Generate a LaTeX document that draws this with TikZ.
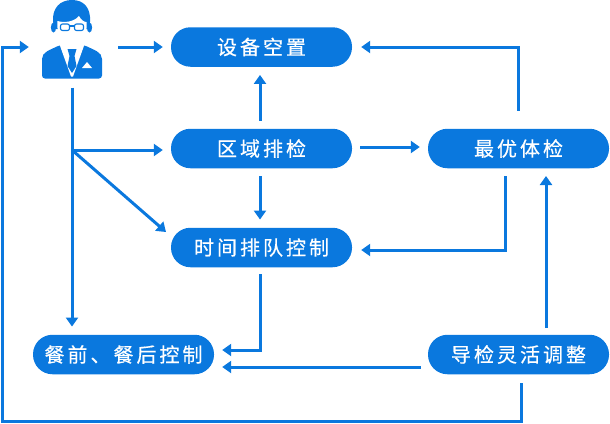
\documentclass[tikz,border=0pt]{standalone}
\usepackage{fontspec}
\newfontfamily\cjk[LetterSpace=15,FakeBold=0.5]{Noto Sans CJK SC}
\usetikzlibrary{arrows.meta,calc}
\definecolor{flow}{RGB}{10,120,222}
\tikzset{
  pill/.style={rounded corners=19.5pt,fill=flow,text=white,minimum width=181pt,minimum height=39.5pt,inner sep=0pt,font=\cjk\fontsize{20pt}{23pt}\selectfont,anchor=center},
  arr/.style={draw=flow,line width=3pt,-{Triangle[length=9pt,width=12pt]}}
}
\begin{document}
\begin{tikzpicture}[x=1pt,y=-1pt]
\useasboundingbox (0,0) rectangle (610,423);
\node[pill] (shebei) at (261.5,47) {设备空置};
\node[pill] (quyu) at (261.5,148.5) {区域排检};
\node[pill] (zuiyou) at (518.5,148.5) {最优体检};
\node[pill] (shijian) at (261.5,247.5) {时间排队控制};
\node[pill] (canqian) at (123.5,354.5) {餐前、餐后控制};
\node[pill] (daojian) at (518.5,354.5) {导检灵活调整};
\node[minimum width=60pt,minimum height=80pt,inner sep=0pt] (person) at (72,39.5) {};
% person figure
\fill[flow,rounded corners=3pt] (42,78.5) -- (42,62) .. controls (42,52) and (50,50) .. (60,45) -- (84,45) .. controls (94,50) and (102,52) .. (102,62) -- (102,78.5) -- cycle;
\fill[white] (59,43) -- (85,43) -- (73,76.5) -- (71,76.5) -- cycle;
\fill[flow] (67.5,49) -- (76.5,49) -- (74.5,56) -- (76.5,66) -- (72,73) -- (67.5,66) -- (69.5,56) -- cycle;
\fill[white] (82,68) -- (87,62) -- (92,68) -- cycle;
\fill[flow] (53,22) .. controls (52,8) and (60,0) .. (72,0) .. controls (84,0) and (91,8) .. (90,22) -- (88,29) -- (56,29) -- cycle;
\fill[flow] (53.5,27.5) ellipse (2.6pt and 5pt);
\fill[flow] (89.5,27.5) ellipse (2.6pt and 5pt);
\fill[white] (57.5,21) .. controls (64,23) and (74,22) .. (79,16) .. controls (81,20) and (84,22) .. (86.5,22) .. controls (88,36) and (81,45) .. (72,45) .. controls (63,45) and (56,36) .. (57.5,21) -- cycle;
\draw[flow,line width=1.1pt,rounded corners=2pt] (60.5,24) rectangle (69.5,30.5) (74.5,24) rectangle (83.5,30.5);
\draw[flow,line width=1.1pt] (69.5,26) -- (74.5,26);
% named junctions
\coordinate (pdown) at (72,150);
\coordinate (pdiag) at (166,232);
\coordinate (corner1) at (505,250);
\coordinate (corner2) at (260,350);
\coordinate (corner3) at (zuiyou.north |- shebei.east);
\coordinate (loopa) at (521,421);
\coordinate (loopb) at (2,421);
\coordinate (loopc) at (2,47);
% connectors
\draw[arr,shorten <=8pt,shorten >=8pt] (person.south) -- (person.south |- canqian.north);
\draw[arr,shorten >=8pt] (pdown) -- (pdown -| quyu.west);
\draw[arr] (pdown) -- (pdiag);
\draw[arr,shorten <=16pt,shorten >=8pt] (person.east) ++(0,7.5) -- (shebei.west);
\draw[arr,shorten <=8pt,shorten >=8pt] ([xshift=-1.5pt]quyu.north) -- ([xshift=-1.5pt]shebei.south);
\draw[arr,shorten <=8pt,shorten >=8pt] ([xshift=-1.5pt]quyu.south) -- ([xshift=-1.5pt]shijian.north);
\draw[arr,shorten <=8pt,shorten >=8pt] ([yshift=1.5pt]quyu.east) -- ([yshift=1.5pt]zuiyou.west);
\draw[arr,shorten >=9pt] (zuiyou.north) ++(0,-18) -- (corner3) -- (shebei.east);
\draw[arr,shorten <=8pt,shorten >=9pt] (corner1 |- zuiyou.south) -- (corner1) -- (corner1 -| shijian.east);
\draw[arr,shorten <=7pt,shorten >=8pt] ([xshift=-1.5pt]shijian.south) -- (corner2) -- (corner2 -| canqian.east);
\draw[arr,shorten <=7pt,shorten >=8pt] (daojian.west |- 0,367) -- (canqian.east |- 0,367);
\draw[arr,shorten <=7pt,shorten >=8pt] (546,335) -- (546,168);
\draw[arr,shorten <=9pt,shorten >=13pt] (loopa |- daojian.south) -- (loopa) -- (loopb) -- (loopc) -- (person.west |- loopc);
\end{tikzpicture}
\end{document}
